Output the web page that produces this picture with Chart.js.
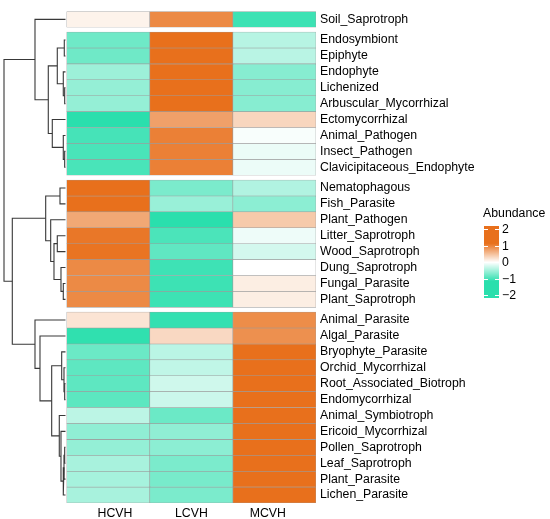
<!DOCTYPE html>
<html>
<head>
<meta charset="utf-8">
<script src="https://cdn.jsdelivr.net/npm/chart.js@4.4.1/dist/chart.umd.min.js"></script>
<style>
  html, body { margin: 0; padding: 0; background: #fff; }
  #wrap { width: 550px; height: 519px; position: relative; }
</style>
</head>
<body>
<div id="wrap"><canvas id="heat"></canvas></div>
<script>
// Heatmap data (row scaled abundance)
const cols = ['HCVH', 'LCVH', 'MCVH'];
const rowLabels = [
  'Soil_Saprotroph',
  'Endosymbiont', 'Epiphyte', 'Endophyte', 'Lichenized', 'Arbuscular_Mycorrhizal',
  'Ectomycorrhizal', 'Animal_Pathogen', 'Insect_Pathogen', 'Clavicipitaceous_Endophyte',
  'Nematophagous', 'Fish_Parasite', 'Plant_Pathogen', 'Litter_Saprotroph', 'Wood_Saprotroph',
  'Dung_Saprotroph', 'Fungal_Parasite', 'Plant_Saprotroph',
  'Animal_Parasite', 'Algal_Parasite', 'Bryophyte_Parasite', 'Orchid_Mycorrhizal',
  'Root_Associated_Biotroph', 'Endomycorrhizal', 'Animal_Symbiotroph', 'Ericoid_Mycorrhizal',
  'Pollen_Saprotroph', 'Leaf_Saprotroph', 'Plant_Parasite', 'Lichen_Parasite'
];
// cluster of each row (cutree), rows are split into 4 blocks
const rowGroup = [0, 1, 1, 1, 1, 1, 1, 1, 1, 1, 2, 2, 2, 2, 2, 2, 2, 2,
                  3, 3, 3, 3, 3, 3, 3, 3, 3, 3, 3, 3];
const HCVH = [0.10, -0.78, -0.78, -0.53, -0.57, -0.57, -1.15, -1.00, -0.98, -0.98,
              1.15, 1.15, 0.70, 1.09, 1.12, 0.94, 0.94, 0.94,
              0.22, -1.12, -0.80, -0.87, -0.87, -0.88, -0.36, -0.60, -0.58, -0.47, -0.48, -0.47];
const LCVH = [0.94, 1.15, 1.15, 1.15, 1.15, 1.15, 0.76, 1.02, 1.02, 1.02,
              -0.71, -0.55, -1.15, -0.97, -0.86, -1.04, -1.05, -1.05,
              -1.10, 0.31, -0.37, -0.34, -0.26, -0.28, -0.80, -0.60, -0.62, -0.71, -0.73, -0.71];
const MCVH = [-1.05, -0.39, -0.38, -0.65, -0.65, -0.65, 0.33, -0.04, -0.11, -0.10,
              -0.42, -0.62, 0.43, -0.09, -0.24, 0.00, 0.14, 0.14,
              0.92, 0.89, 1.15, 1.15, 1.15, 1.15, 1.15, 1.15, 1.15, 1.15, 1.15, 1.15];

// Row dendrogram, hclust style: negative = leaf (1-based row), positive = earlier merge
const mergeA = [-2, -5, -4, 1, -9, -8, -7, 4, -1, -11, -14, -17, -16, 11, -13, 10,
                -23, -22, -21, -27, 20, 21, -26, -25, 19, -20, -19, 16, 9];
const mergeB = [-3, -6, 2, 3, -10, 5, 6, 7, 8, -12, -15, -18, 12, 13, 14, 15,
                -24, 17, 18, -28, -29, -30, 22, 23, 24, 25, 26, 27, 28];
const mergeHeight = [0.12, 0.08, 0.22, 0.82, 0.08, 0.22, 1.32, 1.72, 3.05, 0.55, 0.82, 0.22,
                     0.45, 1.15, 1.48, 1.98, 0.08, 0.15, 0.38, 0.08, 0.15, 0.22, 0.45, 0.62,
                     1.38, 2.55, 3.05, 5.32, 6.15];

const legendTicks = [2, 1, 0, -1, -2];

// ---------------------------------------------------------------------------
// Layout / style
const GAP = 0.3;            // gap between row blocks, in row units
const DENDRO_WIDTH = 0.74;  // width of the tree, in column units
const LEAF_GAP = 0.015;
const LABEL_SPREAD = 0.92;  // column names sit a little closer together than the cells
const LOW = [42, 223, 173], MID = [255, 255, 255], HIGH = [232, 112, 28];
const SAT = 1.15;
const FONT = "'Liberation Sans', Arial, sans-serif";

function abundanceColor(v) {
  const t = Math.min(Math.abs(v) / SAT, 1);
  const end = v < 0 ? LOW : HIGH;
  const c = MID.map((m, k) => Math.round(m + (end[k] - m) * t));
  return `rgb(${c.join(',')})`;
}

Chart.defaults.font.family = FONT;
Chart.defaults.font.size = 12.3;
Chart.defaults.color = '#000';

// row positions on the y scale
const rowTop = rowLabels.map((_, i) => i + GAP * rowGroup[i]);
const yMax = rowLabels.length + GAP * Math.max(...rowGroup);

// heat cells: one floating-bar dataset per row
const values = [HCVH, LCVH, MCVH];
const cellSets = rowLabels.map((lab, i) => ({
  type: 'bar',
  label: lab,
  data: cols.map((c, j) => ({ x: j + 0.5, y: [rowTop[i], rowTop[i] + 1] })),
  backgroundColor: values.map(arr => abundanceColor(arr[i])),
  borderColor: '#9c9c9c',
  borderWidth: 0.6,
  borderSkipped: false,
  grouped: false,
  barPercentage: 1,
  categoryPercentage: 1
}));

// dendrogram: one polyline per merge
const rootHeight = Math.max(...mergeHeight);
const hx = h => -(LEAF_GAP + h / rootHeight * DENDRO_WIDTH);
const nodes = [];
function nodeOf(ref) {
  if (ref < 0) return { y: rowTop[-ref - 1] + 0.5, h: 0 };
  return nodes[ref - 1];
}
const treeSets = [];
mergeA.forEach((a, k) => {
  const na = nodeOf(a), nb = nodeOf(mergeB[k]), h = mergeHeight[k];
  nodes.push({ y: (na.y + nb.y) / 2, h: h });
  treeSets.push({
    type: 'line',
    data: [
      { x: hx(na.h), y: na.y }, { x: hx(h), y: na.y },
      { x: hx(h), y: nb.y }, { x: hx(nb.h), y: nb.y }
    ],
    borderColor: '#383838',
    borderWidth: 1.1,
    pointRadius: 0,
    fill: false,
    tension: 0,
    clip: false
  });
});

// colour key
const legendPlugin = {
  id: 'abundanceKey',
  afterDraw(chart) {
    const ctx = chart.ctx;
    const left = 484, width = 15, top = 226, bottom = 298;
    const vTop = 2.2, vBot = -2.16;
    const toY = v => top + (vTop - v) / (vTop - vBot) * (bottom - top);
    ctx.save();
    for (let y = top; y < bottom; y++) {
      const v = vTop - (y + 0.5 - top) / (bottom - top) * (vTop - vBot);
      ctx.fillStyle = abundanceColor(v);
      ctx.fillRect(left, y, width, 1);
    }
    ctx.strokeStyle = '#fff';
    ctx.lineWidth = 1;
    ctx.fillStyle = '#000';
    ctx.font = '12.3px ' + FONT;
    ctx.textBaseline = 'middle';
    ctx.textAlign = 'left';
    legendTicks.forEach(t => {
      const y = Math.round(toY(t)) + 0.5;
      ctx.beginPath();
      ctx.moveTo(left, y); ctx.lineTo(left + 4, y);
      ctx.moveTo(left + width - 4, y); ctx.lineTo(left + width, y);
      ctx.stroke();
      ctx.fillText(t < 0 ? '\u2212' + Math.abs(t) : String(t), left + width + 3, y);
    });
    ctx.fillText('Abundance', 483, 214);
    ctx.restore();
  }
};

const xMin = -(LEAF_GAP + DENDRO_WIDTH);
const mid = (cols.length - 1) / 2;

new Chart(document.getElementById('heat'), {
  type: 'bar',
  data: { datasets: [...cellSets, ...treeSets] },
  options: {
    responsive: true,
    maintainAspectRatio: false,
    animation: false,
    events: [],
    layout: { padding: { top: 4, left: 4, right: 0, bottom: 0 } },
    plugins: { legend: { display: false }, tooltip: { enabled: false } },
    scales: {
      // cell axis (column centres), not drawn
      x: {
        type: 'linear',
        display: false,
        offset: false,
        min: xMin,
        max: cols.length,
        afterBuildTicks: axis => { axis.ticks = cols.map((c, j) => ({ value: j + 0.5 })); }
      },
      // column name axis
      xl: {
        type: 'linear',
        position: 'bottom',
        offset: false,
        min: xMin,
        max: cols.length,
        grid: { display: false, drawTicks: false },
        border: { display: false },
        afterBuildTicks: axis => {
          axis.ticks = cols.map((c, j) => ({ value: mid + 0.5 + (j - mid) * LABEL_SPREAD }));
        },
        afterFit: axis => { axis.height = 16; },
        ticks: {
          padding: 3,
          maxRotation: 0,
          autoSkip: false,
          callback: (v, i) => cols[i]
        }
      },
      y: {
        type: 'linear',
        position: 'right',
        reverse: true,
        min: 0,
        max: yMax,
        grid: { display: false, drawTicks: false },
        border: { display: false },
        afterBuildTicks: axis => { axis.ticks = rowTop.map(t => ({ value: t + 0.5 })); },
        afterFit: axis => { axis.width = 234; },
        ticks: {
          padding: 4,
          autoSkip: false,
          callback: (v, i) => rowLabels[i]
        }
      }
    }
  },
  plugins: [legendPlugin]
});
</script>
</body>
</html>
